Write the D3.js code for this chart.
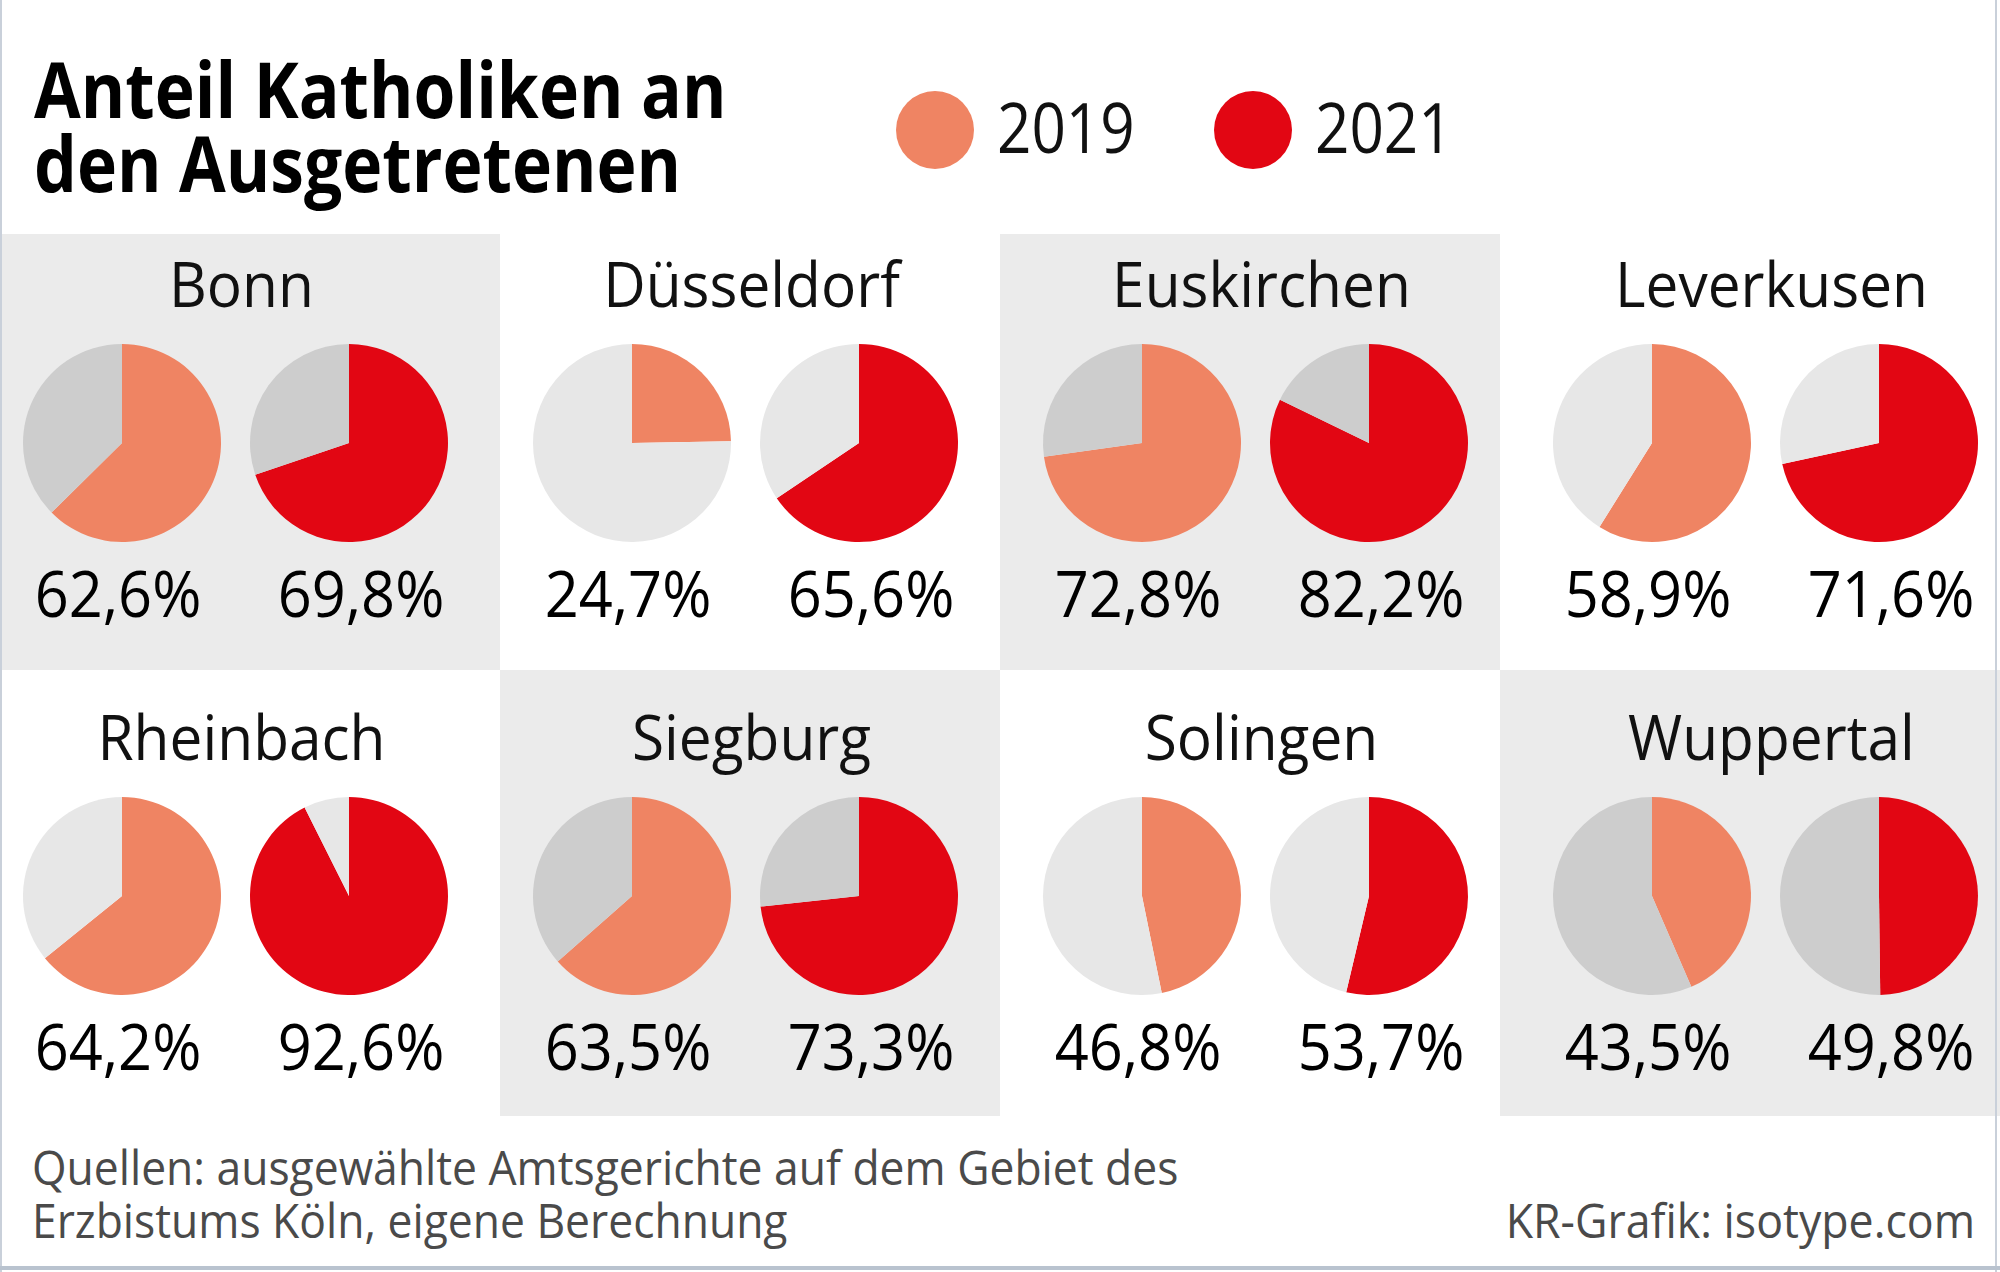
<!DOCTYPE html>
<html>
<head>
<meta charset="utf-8">
<script src="https://cdn.jsdelivr.net/npm/d3@7"></script>
<style>
  html, body { margin: 0; padding: 0; background: #ffffff; }
  svg { display: block; }
  text { font-family: "Open Sans", "Noto Sans", sans-serif; }
</style>
</head>
<body>
<svg id="chart" width="2000" height="1272"></svg>
<script>
// ---------- data ----------
const titleLines = ["Anteil Katholiken an", "den Ausgetretenen"];
const years = ["2019", "2021"];
const cities = ["Bonn", "Düsseldorf", "Euskirchen", "Leverkusen",
                "Rheinbach", "Siegburg", "Solingen", "Wuppertal"];
const values2019 = [62.6, 24.7, 72.8, 58.9, 64.2, 63.5, 46.8, 43.5];
const values2021 = [69.8, 65.6, 82.2, 71.6, 92.6, 73.3, 53.7, 49.8];
const shadedPanel = [true, false, true, false, false, true, false, true];
const sourceLines = ["Quellen: ausgewählte Amtsgerichte auf dem Gebiet des",
                     "Erzbistums Köln, eigene Berechnung"];
const credit = "KR-Grafik: isotype.com";

// ---------- styles ----------
const yearColor = d3.scaleOrdinal().domain(years).range(["#ef8463", "#e20613"]);
const panelFill = shaded => shaded ? "#ebebeb" : "#ffffff";
const restFill = shaded => shaded ? "#cdcdcd" : "#e7e7e7";
const locale = d3.formatLocale({decimal: ",", thousands: ".", grouping: [3], currency: ["", " €"]});
const fmt = v => locale.format(".1f")(v) + "%";

const svg = d3.select("#chart");
const W = 2000, H = 1272;

function condense(sel, f) {
  sel.each(function () {
    const n = this.getComputedTextLength();
    d3.select(this).attr("textLength", n * f).attr("lengthAdjust", "spacingAndGlyphs");
  });
  return sel;
}

svg.append("rect").attr("width", W).attr("height", H).attr("fill", "#fff");

// ---------- layout scales ----------
const nCols = 4;
const colX = d3.scaleLinear().domain([0, nCols]).range([0, 2000]);       // panel columns
const rowY = d3.scaleLinear().domain([0, 1, 2]).range([234, 670, 1116]); // panel rows
const pieX = d3.scaleLinear().domain([0, 1]).range([122, 632]);          // first pie centre per column
const pieGap = 227;
const pieCY = d3.scaleLinear().domain([0, 1]).range([443, 896]);
const R = 99;

const cells = cities.map((c, i) => ({
  city: c, col: i % nCols, row: Math.floor(i / nCols),
  v: [values2019[i], values2021[i]], shaded: shadedPanel[i]
}));

// panels
svg.append("g").selectAll("rect").data(cells).join("rect")
  .attr("x", d => colX(d.col)).attr("y", d => rowY(d.row))
  .attr("width", d => colX(d.col + 1) - colX(d.col))
  .attr("height", d => rowY(d.row + 1) - rowY(d.row))
  .attr("fill", d => panelFill(d.shaded));

const pie = d3.pie().sort(null).value(d => d.v);
const arc = d3.arc().innerRadius(0).outerRadius(R);

const cellG = svg.append("g").selectAll("g").data(cells).join("g");

// city names
condense(cellG.append("text")
  .attr("x", d => pieX(d.col) + pieGap / 2 + 6)
  .attr("y", d => pieCY(d.row) - 136)
  .attr("text-anchor", "middle")
  .attr("font-size", 63)
  .attr("fill", "#111")
  .text(d => d.city), 0.93);

// pies
cellG.each(function (d) {
  const g = d3.select(this);
  years.forEach((yr, k) => {
    const cx = pieX(d.col) + k * pieGap;
    const cy = pieCY(d.row);
    const pg = g.append("g").attr("transform", `translate(${cx},${cy})`);
    const parts = [{key: "val", v: d.v[k]}, {key: "rest", v: 100 - d.v[k]}];
    pg.selectAll("path").data(pie(parts)).join("path")
      .attr("d", arc)
      .attr("fill", p => p.data.key === "val" ? yearColor(yr) : restFill(d.shaded));
    condense(g.append("text")
      .attr("x", cx + (k === 0 ? -4 : 12))
      .attr("y", cy + 174)
      .attr("text-anchor", "middle")
      .attr("font-size", 64)
      .attr("fill", "#000")
      .text(fmt(d.v[k])), 0.93);
  });
});

// title
condense(svg.append("g").selectAll("text").data(titleLines).join("text")
  .attr("x", 34)
  .attr("y", (d, i) => 118 + i * 74)
  .attr("font-size", 77)
  .attr("font-weight", 700)
  .attr("fill", "#000")
  .text(d => d), 0.88);

// legend
const legX = d3.scaleOrdinal().domain(years).range([935, 1253]);
const leg = svg.append("g").selectAll("g").data(years).join("g");
leg.append("circle")
  .attr("cx", d => legX(d)).attr("cy", 130).attr("r", 39)
  .attr("fill", d => yearColor(d));
condense(leg.append("text")
  .attr("x", d => legX(d) + 62).attr("y", 153)
  .attr("font-size", 70).attr("fill", "#111")
  .text(d => d), 0.86);

// footer
condense(svg.append("g").selectAll("text").data(sourceLines).join("text")
  .attr("x", 32).attr("y", (d, i) => 1185 + i * 53)
  .attr("font-size", 47).attr("fill", "#4a4a4a")
  .text(d => d), 0.945);
condense(svg.append("text")
  .attr("x", 1975).attr("y", 1238)
  .attr("text-anchor", "end")
  .attr("font-size", 47).attr("fill", "#4a4a4a")
  .text(credit), 0.95);

// thin frame lines
svg.append("line").attr("x1", 1).attr("x2", 1).attr("y1", 0).attr("y2", H)
  .attr("stroke", "#c9d0da").attr("stroke-width", 2);
svg.append("line").attr("x1", W - 4).attr("x2", W - 4).attr("y1", 0).attr("y2", H)
  .attr("stroke", "#c9d0da").attr("stroke-width", 2);
svg.append("line").attr("x1", 0).attr("x2", W).attr("y1", H - 4).attr("y2", H - 4)
  .attr("stroke", "#b9c3cf").attr("stroke-width", 4);
</script>
</body>
</html>
